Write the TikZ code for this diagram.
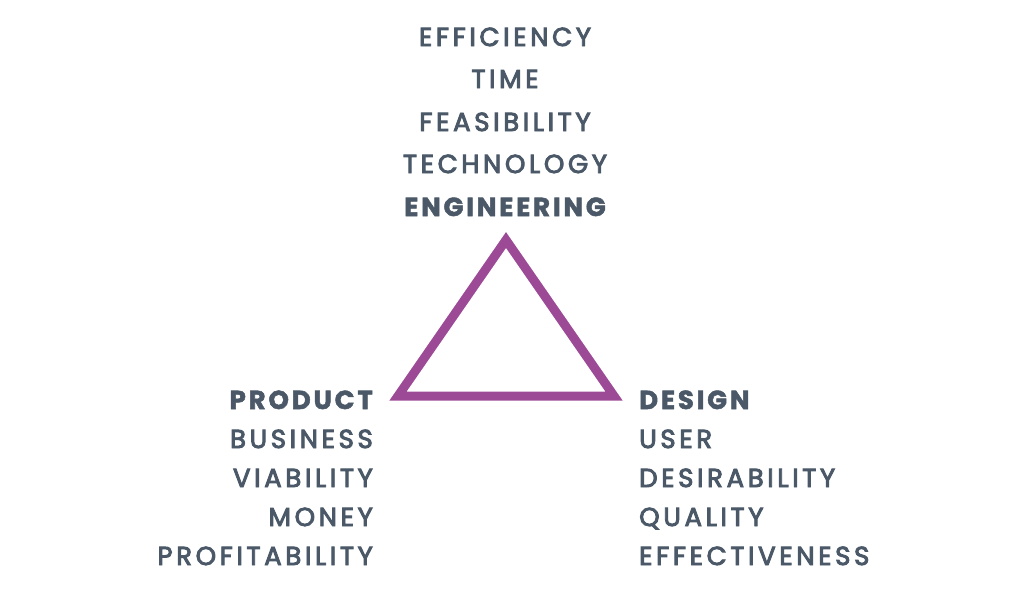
\documentclass[tikz,border=0pt]{standalone}
\usepackage{fontspec}
\setmainfont{Poppins}[LetterSpace=11, BoldFeatures={FakeBold=2}]
\newfontfamily\regf{Poppins}[LetterSpace=14, FakeBold=3.5]
\definecolor{txt}{HTML}{4A5868}
\definecolor{tri}{HTML}{9C4A96}
\tikzset{
  lbl/.style={font=\fontsize{26}{26}\regf, text=txt, inner sep=0pt, anchor=base},
  hd/.style={lbl, font=\fontsize{26}{26}\selectfont\bfseries},
  lft/.style={anchor=base east},
  rgt/.style={anchor=base west},
}
\begin{document}
\begin{tikzpicture}[x=1pt,y=-1pt]
\useasboundingbox (0,0) rectangle (1018,608);
\node[lbl] (t1) at (505,46) {EFFICIENCY};
\node[lbl] (t2) at (505,88) {TIME};
\node[lbl] (t3) at (505,131) {FEASIBILITY};
\node[lbl] (t4) at (505,173) {TECHNOLOGY};
\node[hd] (t5) at (505,216) {ENGINEERING};
\coordinate (A) at (506,240);
\coordinate (B) at (398,396);
\coordinate (C) at (614,396);
\draw[tri, line width=9pt, line join=miter] (A) -- (B) -- (C) -- cycle;
\node[hd,lft] (p1) at (373,409) {PRODUCT};
\node[lbl,lft] (p2) at (373,448) {BUSINESS};
\node[lbl,lft] (p3) at (373,487) {VIABILITY};
\node[lbl,lft] (p4) at (373,526) {MONEY};
\node[lbl,lft] (p5) at (373,565) {PROFITABILITY};
\node[hd,rgt] (d1) at (639,409) {DESIGN};
\node[lbl,rgt] (d2) at (639,448) {USER};
\node[lbl,rgt] (d3) at (639,487) {DESIRABILITY};
\node[lbl,rgt] (d4) at (639,526) {QUALITY};
\node[lbl,rgt] (d5) at (639,565) {EFFECTIVENESS};
\end{tikzpicture}
\end{document}
